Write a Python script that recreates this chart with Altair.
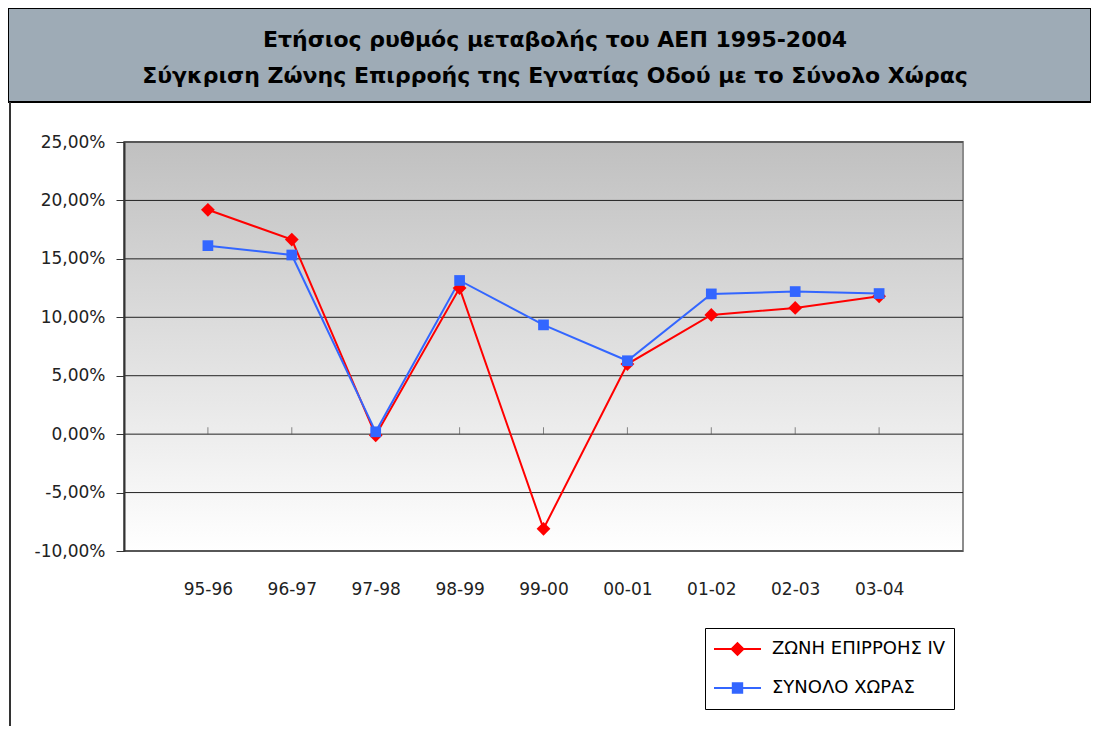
import altair as alt
import pandas as pd

# ---- data ----
periods = ["95-96", "96-97", "97-98", "98-99", "99-00", "00-01", "01-02", "02-03", "03-04"]
zone_iv = [0.1920, 0.1665, -0.0010, 0.1250, -0.0810, 0.0600, 0.1020, 0.1080, 0.1180]
country = [0.1613, 0.1533, 0.0020, 0.1315, 0.0935, 0.0628, 0.1200, 0.1220, 0.1203]
series_names = ["ΖΩΝΗ ΕΠΙΡΡΟΗΣ ΙV", "ΣΥΝΟΛΟ ΧΩΡΑΣ"]
series_colors = ["#FF0000", "#3366FF"]
y_ticks = [-0.10, -0.05, 0.0, 0.05, 0.10, 0.15, 0.20, 0.25]
title_lines = [
    "Ετήσιος ρυθμός μεταβολής του ΑΕΠ 1995-2004",
    "Σύγκριση Ζώνης Επιρροής της Εγνατίας Οδού με το Σύνολο Χώρας",
]

rows = []
for p, a, b in zip(periods, zone_iv, country):
    rows.append({"period": p, "value": a, "series": series_names[0]})
    rows.append({"period": p, "value": b, "series": series_names[1]})
df = pd.DataFrame(rows)
grid_df = pd.DataFrame({"value": y_ticks})
tick_df = pd.DataFrame({"period": periods, "value": [0.0] * len(periods)})

W, H = 839, 409
FONT = "DejaVu Sans"

x_enc = alt.X(
    "period:N", sort=periods,
    scale=alt.Scale(type="point", padding=1),
    axis=alt.Axis(title=None, domain=False, ticks=False, grid=False, labelAngle=0,
                  labelPadding=30, labelFontSize=17, labelFont=FONT, labelColor="#222"),
)
y_enc = alt.Y(
    "value:Q",
    scale=alt.Scale(domain=[-0.10, 0.25], nice=False, zero=False),
    axis=alt.Axis(title=None, values=y_ticks, grid=False, tickSize=8, tickColor="#333",
                  domainColor="#333", domainWidth=2, labelPadding=11, labelFontSize=17,
                  labelFont=FONT, labelColor="#222", zindex=1,
                  labelExpr="replace(replace(format(datum.value, '.2%'), '.', ','), '\u2212', '-')"),
)

one = alt.Data(values=[{}])

# title band and outer frame
band = alt.Chart(one).mark_rect(fill="#9eabb6", stroke="black", strokeWidth=2).encode(
    x=alt.value(-116), x2=alt.value(W + 128), y=alt.value(-134), y2=alt.value(-40)
)
frame = alt.Chart(one).mark_rule(color="#333", strokeWidth=2).encode(
    x=alt.value(-114), y=alt.value(-40), y2=alt.value(H + 180)
)
title1 = alt.Chart(alt.Data(values=[{"t": title_lines[0]}])).mark_text(
    font=FONT, fontSize=22, fontWeight="bold", color="black", align="center", baseline="middle"
).encode(text="t:N", x=alt.value(431), y=alt.value(-102))
title2 = alt.Chart(alt.Data(values=[{"t": title_lines[1]}])).mark_text(
    font=FONT, fontSize=22, fontWeight="bold", color="black", align="center", baseline="middle"
).encode(text="t:N", x=alt.value(431), y=alt.value(-66))

# plot background gradient with grey border
bg = alt.Chart(one).mark_rect(
    fill=alt.LinearGradient(
        gradient="linear", x1=0, x2=0, y1=0, y2=1,
        stops=[alt.GradientStop(offset=0, color="#c0c0c0"),
               alt.GradientStop(offset=1, color="#ffffff")],
    ),
    stroke="#8c8c8c", strokeWidth=2,
).encode(x=alt.value(0), x2=alt.value(W), y=alt.value(0), y2=alt.value(H))

grid = alt.Chart(grid_df).mark_rule(color="#222", strokeWidth=1).encode(y=y_enc)

ticks = alt.Chart(tick_df).mark_tick(
    orient="vertical", size=7, thickness=1, yOffset=-3.5, color="#555"
).encode(x=x_enc, y=y_enc)

color_none = alt.Color("series:N", scale=alt.Scale(domain=series_names, range=series_colors),
                       legend=None)

lines = alt.Chart(df).mark_line(strokeWidth=2).encode(x=x_enc, y=y_enc, color=color_none)

points = alt.Chart(df).mark_point(filled=True, opacity=1).encode(
    x=x_enc, y=y_enc, color=color_none,
    shape=alt.Shape("series:N", scale=alt.Scale(domain=series_names, range=["diamond", "square"]),
                    legend=None),
    size=alt.Size("series:N", scale=alt.Scale(domain=series_names, range=[190, 115]), legend=None),
)

legend_paths = [
    "M-1,0H1M0,-0.25L0.25,0L0,0.25L-0.25,0Z",
    "M-1,0H1M-0.2,-0.2H0.2V0.2H-0.2Z",
]


def leg():
    return alt.Legend(
        title=None, orient="none", legendX=581, legendY=486, direction="vertical",
        strokeColor="black", fillColor="white", padding=8, clipHeight=26, rowPadding=13,
        labelFont=FONT, labelFontSize=18, labelColor="black", labelOffset=10,
        symbolStrokeWidth=2, symbolSize=2209, symbolOpacity=1, labelLimit=400,
    )


legend_layer = alt.Chart(df).transform_filter("false").mark_point(
    filled=True, strokeWidth=2, size=2209, opacity=1
).encode(
    x=x_enc, y=y_enc,
    color=alt.Color("series:N", scale=alt.Scale(domain=series_names, range=series_colors), legend=leg()),
    stroke=alt.Stroke("series:N", scale=alt.Scale(domain=series_names, range=series_colors), legend=leg()),
    shape=alt.Shape("series:N", scale=alt.Scale(domain=series_names, range=legend_paths), legend=leg()),
)

chart = alt.layer(band, frame, title1, title2, bg, grid, ticks, lines, points, legend_layer).resolve_scale(
    color="independent", shape="independent", stroke="independent", size="independent"
).properties(
    width=W, height=H,
    autosize=alt.AutoSizeParams(type="none"),
    padding={"left": 116, "top": 134, "right": 128, "bottom": 175},
    background="white",
).configure_view(stroke=None)

chart.save("out.html", embed_options={"renderer": "svg", "actions": False})
